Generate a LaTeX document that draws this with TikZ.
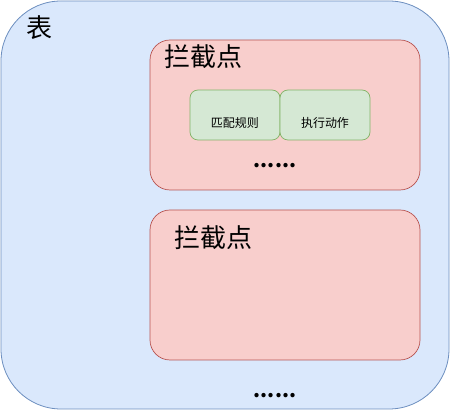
\documentclass[tikz,border=0pt]{standalone}
\usepackage{fontspec}
\newfontfamily\cjk{Noto Sans CJK SC}
\begin{document}
\begin{tikzpicture}[x=1pt,y=-1pt,
  tablebox/.style={draw={rgb,255:red,108;green,142;blue,191}, fill={rgb,255:red,218;green,232;blue,252}, line width=0.8pt},
  hookbox/.style={draw={rgb,255:red,184;green,84;blue,80}, fill={rgb,255:red,248;green,206;blue,204}, line width=0.7pt},
  rulebox/.style={draw={rgb,255:red,130;green,179;blue,102}, fill={rgb,255:red,213;green,232;blue,212}, line width=0.7pt, rounded corners=8pt},
  bigtext/.style={font=\cjk\fontsize{26}{30}\selectfont, inner sep=0pt, anchor=west},
  smalltext/.style={font=\cjk\fontsize{12}{14}\selectfont, inner sep=0pt},
  dots/.style={font=\cjk\fontsize{20}{24}\selectfont\bfseries, inner sep=0pt, anchor=base}]
\useasboundingbox (0,0) rectangle (451,411);
% outer table
\draw[tablebox, rounded corners=60pt] (1,1) rectangle (449,409);
\node[bigtext] (tab) at (26,28) {表};
% first hook point with its rule and action
\draw[hookbox, rounded corners=20pt] (150,40) rectangle (420,190);
\node[bigtext] (hp1) at (164,57) {拦截点};
\node[rulebox, minimum width=90pt, minimum height=50pt] (match) at (235,115) {};
\node[smalltext] (matcht) at (235,122.5) {匹配规则};
\node[rulebox, minimum width=90pt, minimum height=50pt] (act) at (325,115) {};
\node[smalltext] (actt) at (325,122.5) {执行动作};
\node[dots] (d1) at (275,168) {......};
% second hook point
\draw[hookbox, rounded corners=20pt] (150,210) rectangle (420,360);
\node[bigtext] (hp2) at (174,238) {拦截点};
\node[dots] (d2) at (275,398) {......};
\end{tikzpicture}
\end{document}
